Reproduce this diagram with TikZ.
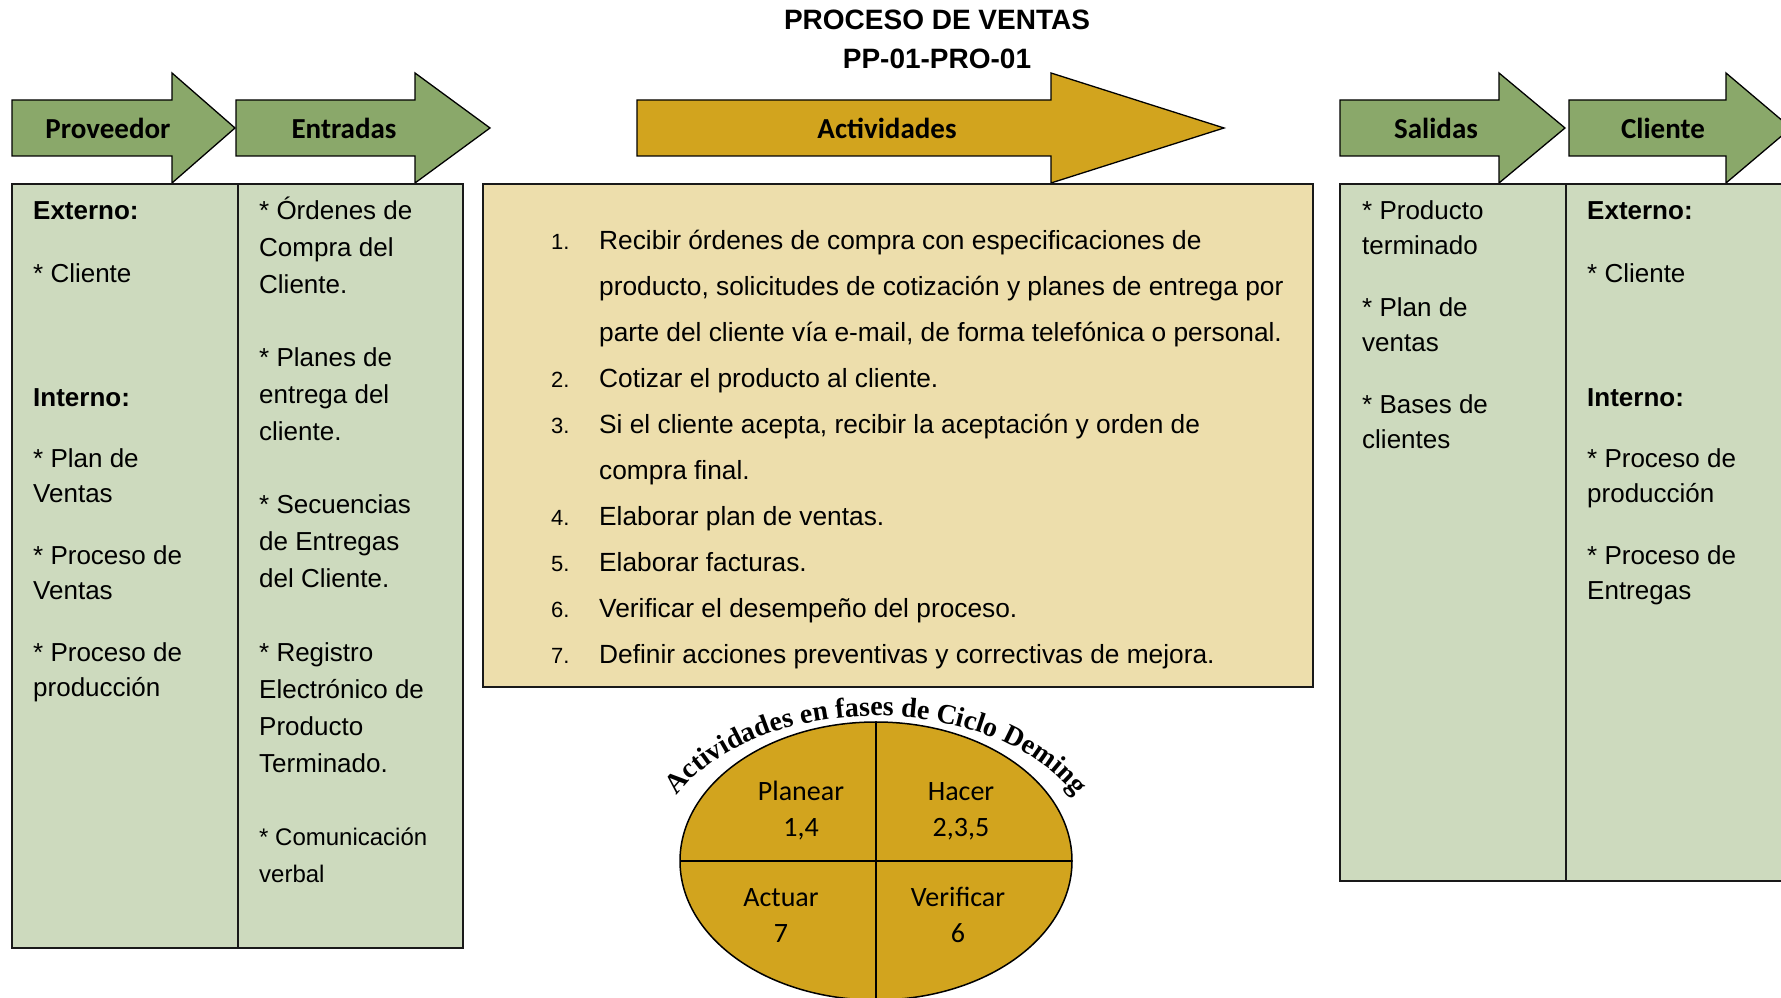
\documentclass[tikz,border=0pt]{standalone}
\usepackage{fontspec}
\setmainfont{Liberation Sans}
\newfontfamily\calib{Carlito}
\newfontfamily\tnr{Liberation Serif}
\usetikzlibrary{decorations.text}
\definecolor{arrowgreen}{RGB}{138,168,106}
\definecolor{boxgreen}{RGB}{205,218,190}
\definecolor{goldfill}{RGB}{210,164,30}
\definecolor{lightgold}{RGB}{237,222,172}
\begin{document}
\begin{tikzpicture}[x=1pt,y=1pt,
  arrowshape/.style={draw=black, line width=1.3pt, line join=miter},
  boxshape/.style={draw=black!90, line width=1.6pt},
  arrowlabel/.style={font=\calib\bfseries\fontsize{29}{30}\selectfont, inner sep=0},
  itemtext/.style={font=\fontsize{26}{35}\selectfont, align=left, anchor=base west, inner sep=0},
  itemtextb/.style={itemtext, font=\fontsize{26}{37}\selectfont},
  listtext/.style={itemtext, font=\fontsize{26.3}{46}\selectfont},
  listnum/.style={font=\fontsize{22}{26}\selectfont, anchor=base west, inner sep=0},
  phase/.style={font=\calib\fontsize{28}{36}\selectfont, align=center, anchor=base, inner sep=0}
]
\useasboundingbox (0,0) rectangle (1781,998);
\clip (0,0) rectangle (1781,998);

% title (base anchor = last line)
\node[font=\bfseries\fontsize{28}{39}\selectfont, align=center, anchor=base, inner sep=0] (title) at (937,929) {PROCESO DE VENTAS\\PP-01-PRO-01};

% header arrows
\draw[arrowshape, fill=arrowgreen] (12,842)--(172,842)--(172,815)--(235,870)--(172,925)--(172,898)--(12,898)--cycle;
\draw[arrowshape, fill=arrowgreen] (236,842)--(415,842)--(415,815)--(490,870)--(415,925)--(415,898)--(236,898)--cycle;
\draw[arrowshape, fill=goldfill] (637,842)--(1051,842)--(1051,815)--(1224,870)--(1051,925)--(1051,898)--(637,898)--cycle;
\draw[arrowshape, fill=arrowgreen] (1340,842)--(1499,842)--(1499,815)--(1565,870)--(1499,925)--(1499,898)--(1340,898)--cycle;
\draw[arrowshape, fill=arrowgreen] (1569,842)--(1726,842)--(1726,815)--(1791,870)--(1726,925)--(1726,898)--(1569,898)--cycle;

\node[arrowlabel] (lprov) at (108,870) {Proveedor};
\node[arrowlabel] (lent) at (344,870) {Entradas};
\node[arrowlabel] (lact) at (887,870) {Actividades};
\node[arrowlabel] (lsal) at (1436,870) {Salidas};
\node[arrowlabel] (lcli) at (1663,870) {Cliente};

% column boxes
\draw[boxshape, fill=boxgreen] (12,50) rectangle (238,814);
\draw[boxshape, fill=boxgreen] (238,50) rectangle (463,814);
\draw[boxshape, fill=lightgold] (483,311) rectangle (1313,814);
\draw[boxshape, fill=boxgreen] (1340,117) rectangle (1566,814);
\draw[boxshape, fill=boxgreen] (1566,117) rectangle (1795,814);

% Proveedor text
\node[itemtext, font=\bfseries\fontsize{26}{35}\selectfont] (p1) at (33,778) {Externo:};
\node[itemtext] (p2) at (33,715) {* Cliente};
\node[itemtext, font=\bfseries\fontsize{26}{35}\selectfont] (p3) at (33,591) {Interno:};
\node[itemtext] (p4) at (33,495) {* Plan de\\Ventas};
\node[itemtext] (p5) at (33,398) {* Proceso de\\Ventas};
\node[itemtext] (p6) at (33,301) {* Proceso de\\producción};

% Entradas text
\node[itemtextb] (e1) at (259,704) {* Órdenes de\\Compra del\\Cliente.};
\node[itemtextb] (e2) at (259,557) {* Planes de\\entrega del\\cliente.};
\node[itemtextb] (e3) at (259,410) {* Secuencias\\de Entregas\\del Cliente.};
\node[itemtextb] (e4) at (259,225) {* Registro\\Electrónico de\\Producto\\Terminado.};
\node[itemtextb, font=\fontsize{24}{37}\selectfont] (e5) at (259,115) {* Comunicación\\verbal};

% Actividades list
\node[listnum] (n1) at (551,748) {1.};
\node[listnum] (n2) at (551,610) {2.};
\node[listnum] (n3) at (551,564) {3.};
\node[listnum] (n4) at (551,472) {4.};
\node[listnum] (n5) at (551,426) {5.};
\node[listnum] (n6) at (551,380) {6.};
\node[listnum] (n7) at (551,334) {7.};
\node[listtext] (a1) at (599,656) {Recibir órdenes de compra con especificaciones de\\producto, solicitudes de cotización y planes de entrega por\\parte del cliente vía e-mail, de forma telefónica o personal.};
\node[listtext] (a2) at (599,610) {Cotizar el producto al cliente.};
\node[listtext] (a3) at (599,518) {Si el cliente acepta, recibir la aceptación y orden de\\compra final.};
\node[listtext] (a4) at (599,472) {Elaborar plan de ventas.};
\node[listtext] (a5) at (599,426) {Elaborar facturas.};
\node[listtext] (a6) at (599,380) {Verificar el desempeño del proceso.};
\node[listtext] (a7) at (599,334) {Definir acciones preventivas y correctivas de mejora.};

% Salidas text
\node[itemtext] (s1) at (1362,743) {* Producto\\terminado};
\node[itemtext] (s2) at (1362,646) {* Plan de\\ventas};
\node[itemtext] (s3) at (1362,549) {* Bases de\\clientes};

% Cliente text
\node[itemtext, font=\bfseries\fontsize{26}{35}\selectfont] (c1) at (1587,778) {Externo:};
\node[itemtext] (c2) at (1587,715) {* Cliente};
\node[itemtext, font=\bfseries\fontsize{26}{35}\selectfont] (c3) at (1587,591) {Interno:};
\node[itemtext] (c4) at (1587,495) {* Proceso de\\producción};
\node[itemtext] (c5) at (1587,398) {* Proceso de\\Entregas};

% Deming ellipse
\draw[line width=1.5pt, fill=goldfill] (876,137) ellipse [x radius=196, y radius=139];
\draw[line width=1.5pt] (876,276) -- (876,-2);
\draw[line width=1.5pt] (680,137) -- (1072,137);
\node[phase] (ph1) at (801,161) {Planear\\1,4};
\node[phase] (ph2) at (961,161) {Hacer\\2,3,5};
\node[phase] (ph3) at (781,55) {Actuar\\7};
\node[phase] (ph4) at (958,55) {Verificar\\6};

\path[decorate, decoration={text along path, text align=center,
  text={|\tnr\bfseries\fontsize{28}{30}\selectfont|Actividades en fases de Ciclo Deming}}]
  (876,139) ++(165:222 and 143) arc[start angle=165, end angle=15, x radius=222, y radius=143];
\end{tikzpicture}
\end{document}
